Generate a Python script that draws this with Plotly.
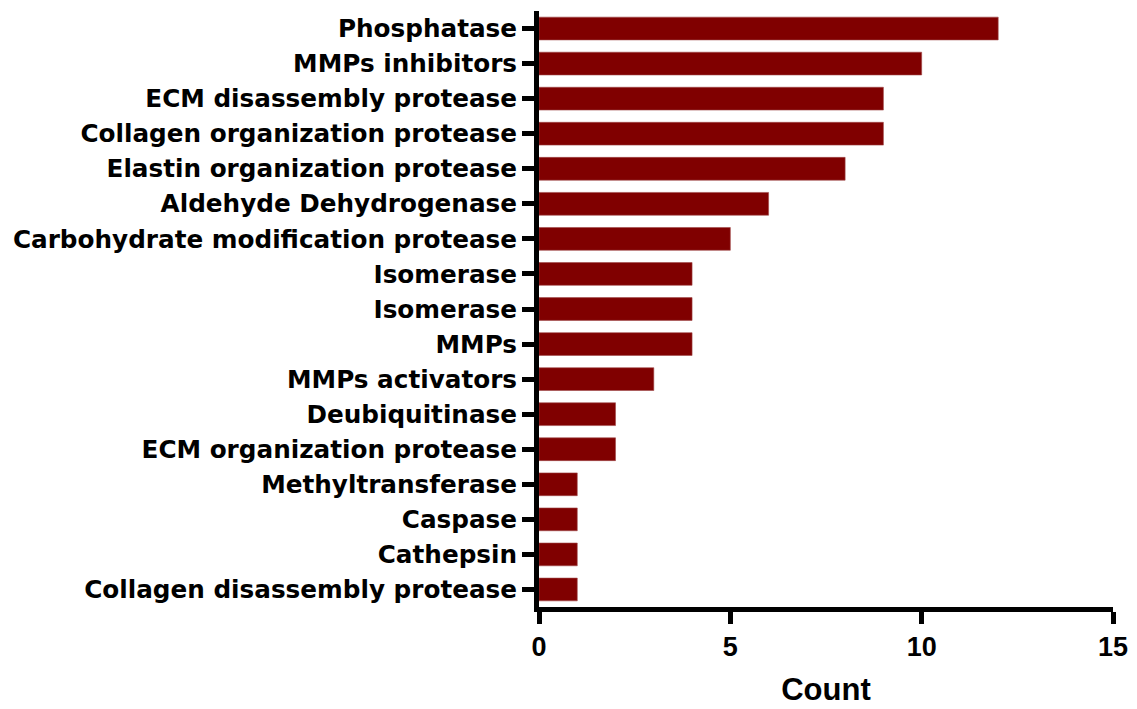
import plotly.graph_objects as go

categories = [
    "Phosphatase",
    "MMPs inhibitors",
    "ECM disassembly protease",
    "Collagen organization protease",
    "Elastin organization protease",
    "Aldehyde Dehydrogenase",
    "Carbohydrate modification protease",
    "Isomerase",
    "Isomerase",
    "MMPs",
    "MMPs activators",
    "Deubiquitinase",
    "ECM organization protease",
    "Methyltransferase",
    "Caspase",
    "Cathepsin",
    "Collagen disassembly protease",
]
counts = [12, 10, 9, 9, 8, 6, 5, 4, 4, 4, 3, 2, 2, 1, 1, 1, 1]
x_ticks = [0, 5, 10, 15]

positions = list(range(len(categories)))

fig = go.Figure(
    go.Bar(
        x=counts,
        y=positions,
        orientation="h",
        marker=dict(color="#800000", line=dict(color="#a04848", width=0.6)),
        width=0.65,
    )
)

# page body has an 8px margin, so the figure is sized/offset accordingly
fig.update_layout(
    width=1129,
    height=701,
    margin=dict(l=531, r=24, t=3, b=102),
    plot_bgcolor="white",
    paper_bgcolor="white",
    showlegend=False,
    font=dict(family="Liberation Sans, Arial, sans-serif", color="black", size=22, weight="bold"),
)

fig.update_xaxes(
    range=[0, 15],
    tickvals=x_ticks,
    ticktext=[str(v) for v in x_ticks],
    automargin=False,
    showgrid=False,
    zeroline=False,
    showline=True,
    linecolor="black",
    linewidth=5,
    ticks="outside",
    ticklen=12,
    tickwidth=5,
    tickcolor="black",
    tickfont=dict(family="Liberation Sans, Arial, sans-serif", size=27, weight="bold"),
    title=dict(text="Count", font=dict(family="Liberation Sans, Arial, sans-serif", size=31, weight="bold"), standoff=18),
)

fig.update_yaxes(
    range=[len(categories) - 0.5, -0.5],
    tickvals=positions,
    ticktext=categories,
    automargin=False,
    showgrid=False,
    zeroline=False,
    showline=True,
    linecolor="black",
    linewidth=5,
    ticks="outside",
    ticklen=12,
    tickwidth=5,
    tickcolor="black",
    tickfont=dict(family="DejaVu Sans, sans-serif", size=24.7, weight="bold"),
)

fig.write_html("out.html")
